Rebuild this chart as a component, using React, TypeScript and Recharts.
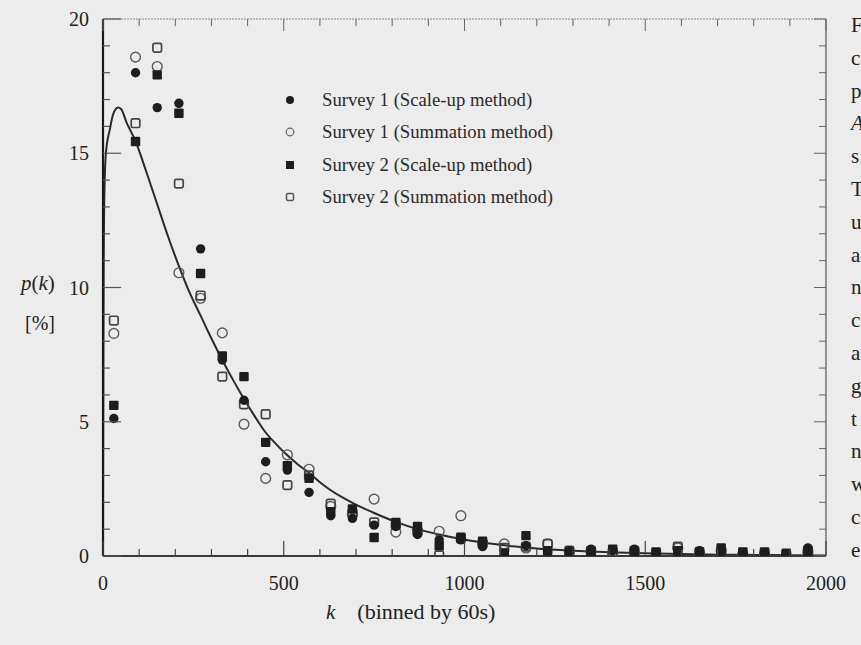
import React from 'react';
import { ComposedChart, XAxis, YAxis, Scatter, Line } from 'recharts';

// Bin centres (k binned by 60s)
const bins = [30, 90, 150, 210, 270, 330, 390, 450, 510, 570, 630, 690, 750, 810, 870, 930, 990,
  1050, 1110, 1170, 1230, 1290, 1350, 1410, 1470, 1530, 1590, 1650, 1710, 1770, 1830, 1890, 1950];

// p(k) in percent for each survey / method
const survey1ScaleUp = [5.12, 18.0, 16.7, 16.86, 11.44, 7.3, 5.8, 3.51, 3.2, 2.37, 1.5, 1.4, 1.15, 1.1, 0.8, 0.6, 0.6,
  0.35, 0.07, 0.38, 0.15, 0.2, 0.25, 0.2, 0.25, 0.1, 0.15, 0.2, 0.1, 0.1, 0.1, 0.05, 0.3];
const survey1Summation = [8.29, 18.58, 18.23, 10.55, 9.6, 8.31, 4.91, 2.89, 3.77, 3.23, 1.85, 1.55, 2.12, 0.89, 0.95, 0.92, 1.5,
  0.5, 0.45, 0.3, 0.45, 0.15, 0.15, 0.1, 0.1, 0.05, 0.3, 0.1, 0.2, 0.05, 0.05, 0.0, 0.15];
const survey2ScaleUp = [5.61, 15.44, 17.92, 16.49, 10.52, 7.45, 6.68, 4.23, 3.36, 2.89, 1.65, 1.75, 0.69, 1.25, 1.1, 0.38, 0.7,
  0.55, 0.1, 0.76, 0.2, 0.1, 0.1, 0.25, 0.1, 0.15, 0.2, 0.05, 0.3, 0.15, 0.15, 0.1, 0.1];
const survey2Summation = [8.77, 16.12, 18.93, 13.87, 9.7, 6.68, 5.65, 5.28, 2.64, 3.0, 1.95, 1.6, 1.25, 1.15, 0.9, 0.02, 0.65,
  0.45, 0.3, 0.35, 0.45, 0.2, 0.2, 0.15, 0.2, 0.1, 0.35, 0.15, 0.2, 0.05, 0.1, 0.05, 0.2];

// Fitted distribution curve
const fitK = [0, 1, 2, 4, 8, 19, 28, 42, 50, 65, 90, 120, 150, 180, 210, 240, 270, 300, 330, 360, 390, 420, 450, 480,
  510, 540, 570, 600, 630, 660, 690, 720, 750, 810, 870, 930, 990, 1050, 1110, 1170, 1230, 1300, 1400, 1500, 1600,
  1700, 1800, 1900, 2000];
const fitP = [0, 7, 11, 13.6, 15.0, 15.9, 16.45, 16.7, 16.65, 16.15, 15.45, 14.3, 13.1, 11.9, 10.8, 9.8, 8.95, 8.1, 7.3,
  6.55, 5.85, 5.2, 4.6, 4.15, 3.75, 3.4, 3.1, 2.75, 2.45, 2.2, 1.98, 1.78, 1.6, 1.27, 1.0, 0.8, 0.63, 0.5, 0.4, 0.32,
  0.25, 0.2, 0.14, 0.1, 0.07, 0.05, 0.04, 0.03, 0.02];

const xTicks = [0, 100, 200, 300, 400, 500, 600, 700, 800, 900, 1000, 1100, 1200, 1300, 1400, 1500, 1600, 1700, 1800, 1900, 2000];
const yTicks = [0, 1, 2, 3, 4, 5, 6, 7, 8, 9, 10, 11, 12, 13, 14, 15, 16, 17, 18, 19, 20];

const legendLabels = [
  'Survey 1 (Scale-up method)',
  'Survey 1 (Summation method)',
  'Survey 2 (Scale-up method)',
  'Survey 2 (Summation method)',
];

const sideLetters = ['F', 'c', 'p', 'A', 's', 'T', 'u', 'a', 'n', 'c', 'a', 'g', 't', 'n', 'w', 'c', 'e'];

const toPoints = (vals: number[]) => bins.map((k, i) => ({ k, p: vals[i] }));
const fitData = fitK.map((k, i) => ({ k, p: fitP[i] }));

const INK = '#1d1d1d';
const FONT = '"Liberation Serif", "DejaVu Serif", serif';

const FilledCircle = (props: any) => <circle cx={props.cx} cy={props.cy} r={4.7} fill={INK} />;
const OpenCircle = (props: any) => (
  <circle cx={props.cx} cy={props.cy} r={4.9} fill="none" stroke="#5a5a5a" strokeWidth={1.4} />
);
const FilledSquare = (props: any) => (
  <rect x={props.cx - 4.7} y={props.cy - 4.7} width={9.4} height={9.4} rx={1} fill={INK} />
);
const OpenSquare = (props: any) => (
  <rect x={props.cx - 4.3} y={props.cy - 4.3} width={8.6} height={8.6} rx={1.6} fill="none" stroke="#444" strokeWidth={1.7} />
);

const legendMarkers = [
  <circle cx={6} cy={6} r={4} fill={INK} />,
  <circle cx={6} cy={6} r={3.8} fill="none" stroke="#666" strokeWidth={1.2} />,
  <rect x={2} y={2} width={8} height={8} fill={INK} />,
  <rect x={2.5} y={2.5} width={7} height={7} rx={1.4} fill="none" stroke="#555" strokeWidth={1.5} />,
];

const LegendBox = () => (
  <div style={{ position: 'absolute', left: 284, top: 84, fontFamily: FONT }}>
    {legendLabels.map((label, i) => (
      <div key={label} style={{ display: 'flex', alignItems: 'center', height: 32.3 }}>
        <svg width={12} height={12} style={{ marginRight: 26 }}>{legendMarkers[i]}</svg>
        <span style={{ fontSize: 18.7, color: '#2a2a2a', whiteSpace: 'nowrap' }}>{label}</span>
      </div>
    ))}
  </div>
);

const BottomTick = (props: any) => {
  const { x, y, payload } = props;
  const major = payload.value % 500 === 0;
  return (
    <g>
      <line x1={x} x2={x} y1={y} y2={y - (major ? 15 : 7)} stroke="#444" strokeWidth={1.2} />
      {major && (
        <text x={x} y={y + 27} textAnchor="middle" dominantBaseline="central" fontFamily={FONT} fontSize={20} fill="#1e1e1e">
          {payload.value}
        </text>
      )}
    </g>
  );
};

const TopTick = (props: any) => {
  const { x, y, payload } = props;
  const major = payload.value % 500 === 0;
  return <line x1={x} x2={x} y1={y} y2={y + (major ? 12 : 7)} stroke="#666" strokeWidth={1} />;
};

const LeftTick = (props: any) => {
  const { x, y, payload } = props;
  const major = payload.value % 5 === 0;
  return (
    <g>
      <line x1={x} x2={x + (major ? 18 : 7)} y1={y} y2={y} stroke="#555" strokeWidth={1.2} />
      {major && (
        <text x={x - 14} y={y} textAnchor="end" dominantBaseline="central" fontFamily={FONT} fontSize={20} fill="#1e1e1e">
          {payload.value}
        </text>
      )}
    </g>
  );
};

const RightTick = (props: any) => {
  const { x, y, payload } = props;
  const major = payload.value % 5 === 0;
  return <line x1={x} x2={x - (major ? 12 : 7)} y1={y} y2={y} stroke="#666" strokeWidth={1} />;
};

export default function App() {
  return (
    <div style={{ position: 'absolute', left: 0, top: 0, width: 861, height: 645, overflow: 'hidden', background: '#ececec', fontFamily: FONT }}>
      <ComposedChart width={861} height={645} margin={{ top: 14, right: 30, bottom: 59, left: 0 }}>
        <XAxis xAxisId="b" dataKey="k" type="number" domain={[0, 2000]} ticks={xTicks} interval={0}
          tickSize={0} tickMargin={0} tickLine={false} tick={<BottomTick />} height={30}
          axisLine={{ stroke: '#3a3a3a', strokeWidth: 2 }} allowDataOverflow />
        <XAxis xAxisId="t" orientation="top" dataKey="k" type="number" domain={[0, 2000]} ticks={xTicks} interval={0}
          tickSize={0} tickMargin={0} tickLine={false} tick={<TopTick />} height={5}
          axisLine={{ stroke: '#8a8a8a', strokeWidth: 1.2, strokeDasharray: '2 1' }} allowDataOverflow />
        <YAxis yAxisId="l" dataKey="p" type="number" domain={[0, 20]} ticks={yTicks} interval={0}
          tickSize={0} tickMargin={0} tickLine={false} tick={<LeftTick />} width={103}
          axisLine={{ stroke: '#1a1a1a', strokeWidth: 2.2 }} allowDataOverflow />
        <YAxis yAxisId="r" orientation="right" dataKey="p" type="number" domain={[0, 20]} ticks={yTicks} interval={0}
          tickSize={0} tickMargin={0} tickLine={false} tick={<RightTick />} width={5}
          axisLine={{ stroke: '#555', strokeWidth: 1.2 }} allowDataOverflow />
        <Line xAxisId="b" yAxisId="l" data={fitData} dataKey="p" type="monotone" dot={false} stroke="#2a2a2a"
          strokeWidth={2} isAnimationActive={false} legendType="none" />
        <Scatter xAxisId="b" yAxisId="l" name={legendLabels[1]} data={toPoints(survey1Summation)} shape={<OpenCircle />} isAnimationActive={false} />
        <Scatter xAxisId="b" yAxisId="l" name={legendLabels[3]} data={toPoints(survey2Summation)} shape={<OpenSquare />} isAnimationActive={false} />
        <Scatter xAxisId="b" yAxisId="l" name={legendLabels[2]} data={toPoints(survey2ScaleUp)} shape={<FilledSquare />} isAnimationActive={false} />
        <Scatter xAxisId="b" yAxisId="l" name={legendLabels[0]} data={toPoints(survey1ScaleUp)} shape={<FilledCircle />} isAnimationActive={false} />
      </ComposedChart>

      <LegendBox />

      {/* y-axis title */}
      <div style={{ position: 'absolute', left: 21, top: 270, fontSize: 21, color: '#222', lineHeight: '26px' }}>
        <i>p</i>(<i>k</i>)
      </div>
      <div style={{ position: 'absolute', left: 25, top: 311, fontSize: 20, color: '#222', lineHeight: '24px' }}>[%]</div>

      {/* x-axis title */}
      <div style={{ position: 'absolute', left: 326, top: 599, fontSize: 21, color: '#222', lineHeight: '26px', whiteSpace: 'nowrap' }}>
        <i>k</i>
        <span style={{ marginLeft: 22, fontSize: 22 }}>(binned by 60s)</span>
      </div>

      {/* running text at the page edge */}
      {sideLetters.map((ch, i) => (
        <div key={i} style={{ position: 'absolute', left: 851, top: 12 + i * 32.8, fontSize: 21, lineHeight: '26px', color: '#222', fontStyle: i === 3 ? 'italic' : 'normal' }}>
          {ch}
        </div>
      ))}
    </div>
  );
}
